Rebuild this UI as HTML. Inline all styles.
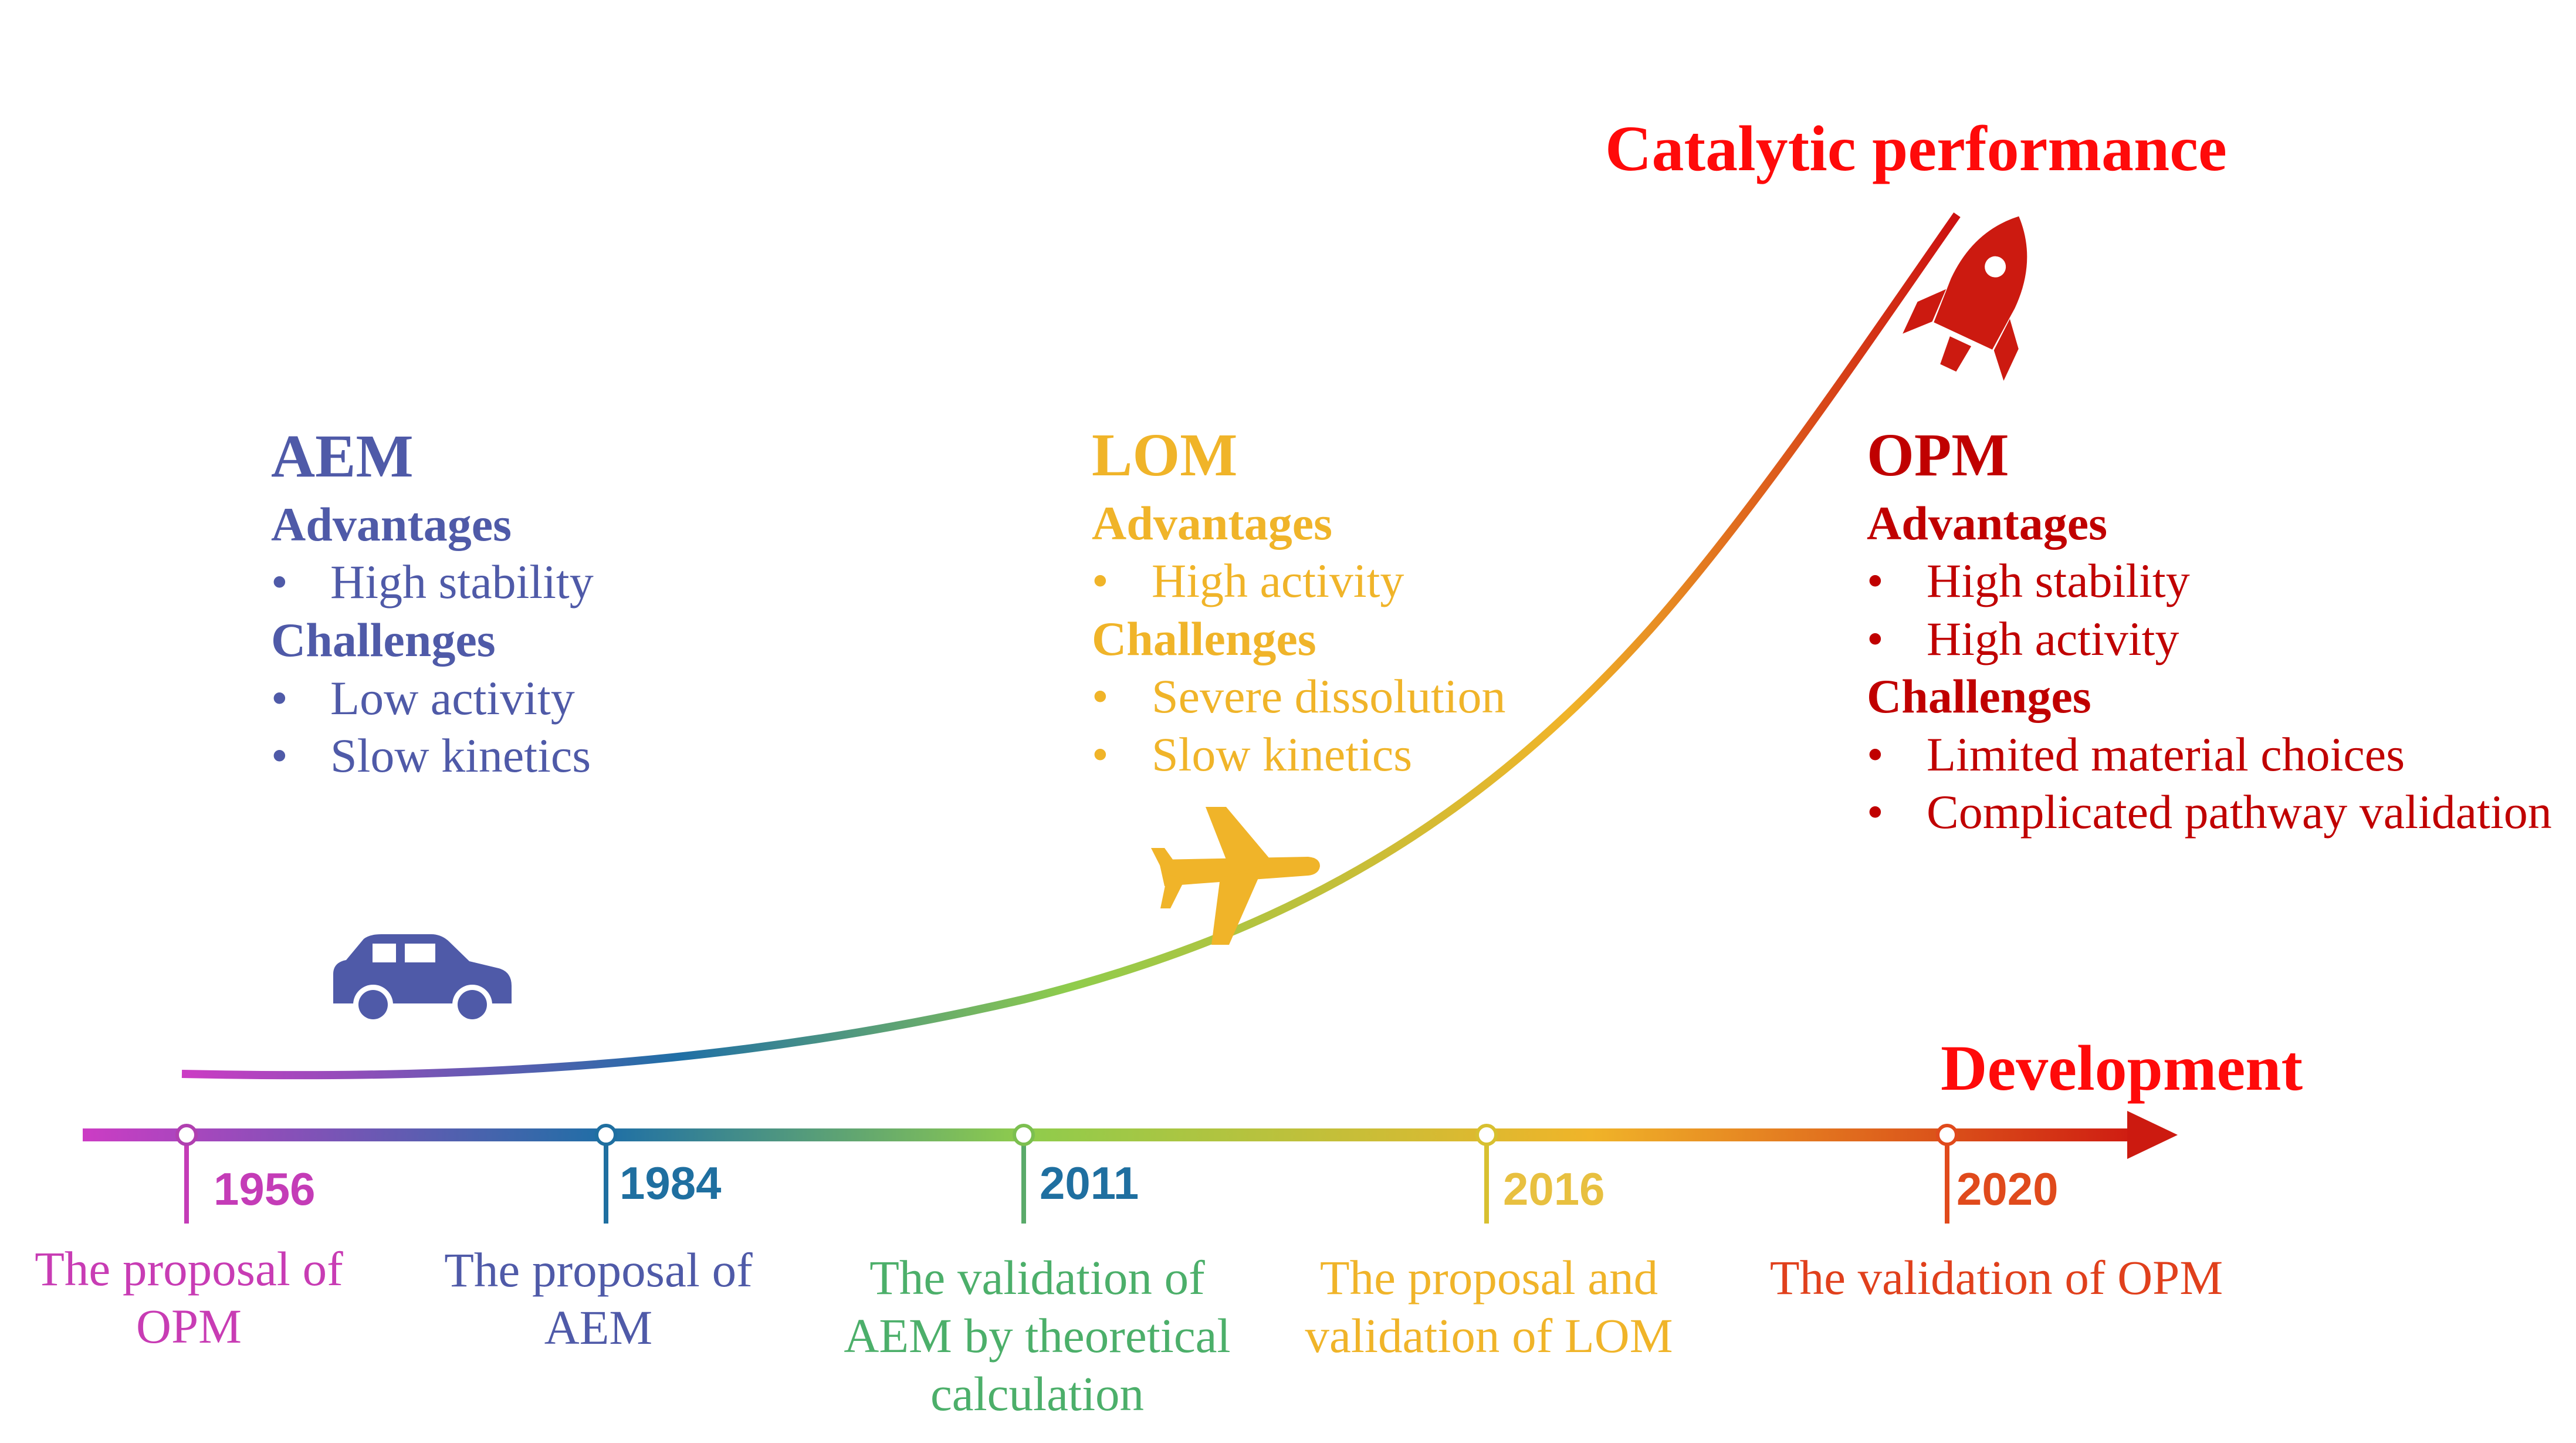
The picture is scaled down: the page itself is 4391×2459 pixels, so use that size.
<!DOCTYPE html>
<html><head><meta charset="utf-8"><style>
html,body{margin:0;padding:0;background:#fff;}
svg{display:block;}
.s{font-family:"Liberation Serif",serif;}
.a{font-family:"Liberation Sans",sans-serif;font-weight:bold;}
</style></head><body>
<svg width="4391" height="2459" viewBox="0 0 4391 2459" xmlns="http://www.w3.org/2000/svg">
<defs>
<linearGradient id="g" gradientUnits="userSpaceOnUse" x1="141" y1="0" x2="3710" y2="0">
<stop offset="0" stop-color="#cc3cc4"/>
<stop offset="0.25" stop-color="#1f6fa6"/>
<stop offset="0.45" stop-color="#8fcc4c"/>
<stop offset="0.72" stop-color="#f0b429"/>
<stop offset="1" stop-color="#cc1010"/>
</linearGradient>
<linearGradient id="c" gradientUnits="userSpaceOnUse" x1="310" y1="0" x2="3336" y2="0">
<stop offset="0" stop-color="#cc3cc4"/>
<stop offset="0.28" stop-color="#1f6fa6"/>
<stop offset="0.5" stop-color="#8fcc4c"/>
<stop offset="0.78" stop-color="#f0b429"/>
<stop offset="1" stop-color="#cc1010"/>
</linearGradient>
</defs>
<path d="M310,1830 C700,1838 1200,1830 1745,1703 C2200,1590 2520,1400 2815,1070 C3000,860 3200,560 3336,366" fill="none" stroke="url(#c)" stroke-width="14"/>
<rect x="141" y="1923" width="3490" height="22" fill="url(#g)"/>
<polygon points="3626,1893 3712,1934 3626,1975" fill="#cc1a10"/>
<g stroke-width="8">
<line x1="318" y1="1934" x2="318" y2="2085" stroke="#c43cb7"/>
<line x1="1033" y1="1934" x2="1033" y2="2085" stroke="#1f6fa0"/>
<line x1="1745" y1="1934" x2="1745" y2="2085" stroke="#5aaa6a"/>
<line x1="2534" y1="1934" x2="2534" y2="2085" stroke="#d8c030"/>
<line x1="3319" y1="1934" x2="3319" y2="2085" stroke="#e04a1c"/>
</g>
<g fill="#fff" stroke-width="6">
<circle cx="318" cy="1934" r="16" stroke="#b040b0"/>
<circle cx="1033" cy="1934" r="16" stroke="#1f6fa0"/>
<circle cx="1745" cy="1934" r="16" stroke="#7cbf50"/>
<circle cx="2534" cy="1934" r="16" stroke="#d8c030"/>
<circle cx="3319" cy="1934" r="16" stroke="#e04a1c"/>
</g>
<g class="a" font-size="78">
<text x="364" y="2053" fill="#c43cb7">1956</text>
<text x="1056" y="2043" fill="#1f6fa0">1984</text>
<text x="1772" y="2043" fill="#1f6fa0">2011</text>
<text x="2562" y="2053" fill="#e8c040">2016</text>
<text x="3335" y="2053" fill="#e04a1c">2020</text>
</g>
<g class="s" font-size="83" text-anchor="middle">
<text x="322" y="2190" fill="#c83cb4">The proposal of</text>
<text x="322" y="2288" fill="#c83cb4">OPM</text>
<text x="1020" y="2192" fill="#4f5aa8">The proposal of</text>
<text x="1020" y="2290" fill="#4f5aa8">AEM</text>
<text x="1768" y="2205" fill="#4caf6a">The validation of</text>
<text x="1768" y="2304" fill="#4caf6a">AEM by theoretical</text>
<text x="1768" y="2403" fill="#4caf6a">calculation</text>
<text x="2538" y="2205" fill="#f0b429">The proposal and</text>
<text x="2538" y="2304" fill="#f0b429">validation of LOM</text>
<text x="3403" y="2205" fill="#e0401c">The validation of OPM</text>
</g>
<text class="s" x="2736" y="290" font-size="110" font-weight="bold" fill="#ff0a0a">Catalytic performance</text>
<text class="s" x="3308" y="1857" font-size="110" font-weight="bold" fill="#ff0a0a">Development</text>
<g class="s" fill="#4f5aa8" font-size="82">
<text x="462" y="812" font-size="104" font-weight="bold">AEM</text>
<text x="462" y="921" font-weight="bold">Advantages</text>
<text x="462" y="1019">•</text><text x="563" y="1019">High stability</text>
<text x="462" y="1118" font-weight="bold">Challenges</text>
<text x="462" y="1217">•</text><text x="563" y="1217">Low activity</text>
<text x="462" y="1315">•</text><text x="563" y="1315">Slow kinetics</text>
</g>
<g class="s" fill="#f0b429" font-size="82">
<text x="1861" y="810" font-size="104" font-weight="bold">LOM</text>
<text x="1861" y="919" font-weight="bold">Advantages</text>
<text x="1861" y="1017">•</text><text x="1963" y="1017">High activity</text>
<text x="1861" y="1116" font-weight="bold">Challenges</text>
<text x="1861" y="1214">•</text><text x="1963" y="1214">Severe dissolution</text>
<text x="1861" y="1313">•</text><text x="1963" y="1313">Slow kinetics</text>
</g>
<g class="s" fill="#c00000" font-size="82">
<text x="3182" y="810" font-size="104" font-weight="bold">OPM</text>
<text x="3182" y="919" font-weight="bold">Advantages</text>
<text x="3182" y="1017">•</text><text x="3284" y="1017">High stability</text>
<text x="3182" y="1116">•</text><text x="3284" y="1116">High activity</text>
<text x="3182" y="1214" font-weight="bold">Challenges</text>
<text x="3182" y="1313">•</text><text x="3284" y="1313">Limited material choices</text>
<text x="3182" y="1411">•</text><text x="3284" y="1411">Complicated pathway validation</text>
</g>
<g fill="#4f5aa8">
<path d="M568,1660 Q568,1640 590,1636 L620,1600 Q630,1592 650,1592 L735,1592 Q752,1592 765,1604 L800,1638 L850,1650 Q872,1656 872,1680 L872,1710 L568,1710 Z"/>
<rect x="635" y="1608" width="40" height="32" fill="#fff"/>
<rect x="690" y="1608" width="52" height="32" fill="#fff"/>
<circle cx="636" cy="1712" r="34" fill="#fff"/><circle cx="636" cy="1712" r="25"/>
<circle cx="805" cy="1712" r="34" fill="#fff"/><circle cx="805" cy="1712" r="25"/>
</g>
<g fill="#f0b429">
<path d="M1975,1465 L2230,1460 Q2250,1462 2250,1476 Q2248,1490 2230,1492 L1985,1510 Z"/>
<path d="M2055,1375 L2090,1375 L2170,1470 L2100,1490 Z"/>
<path d="M2080,1495 L2150,1485 L2095,1610 L2065,1610 Z"/>
<path d="M1962,1445 L1985,1445 L2010,1480 L1990,1500 Z"/>
<path d="M1990,1490 L2020,1498 L1995,1548 L1978,1548 Z"/>
</g>
<g fill="#cc1a10" transform="rotate(25 3380 500)">
<path d="M3380,355 Q3440,410 3440,500 L3435,580 L3325,580 L3320,500 Q3320,410 3380,355 Z"/>
<circle cx="3380" cy="450" r="18" fill="#fff"/>
<path d="M3320,520 L3285,560 L3285,620 L3322,580 Z"/>
<path d="M3440,520 L3475,560 L3475,620 L3438,580 Z"/>
<path d="M3360,590 L3400,590 L3395,640 L3365,640 Z"/>
</g>
</svg>
</body></html>
